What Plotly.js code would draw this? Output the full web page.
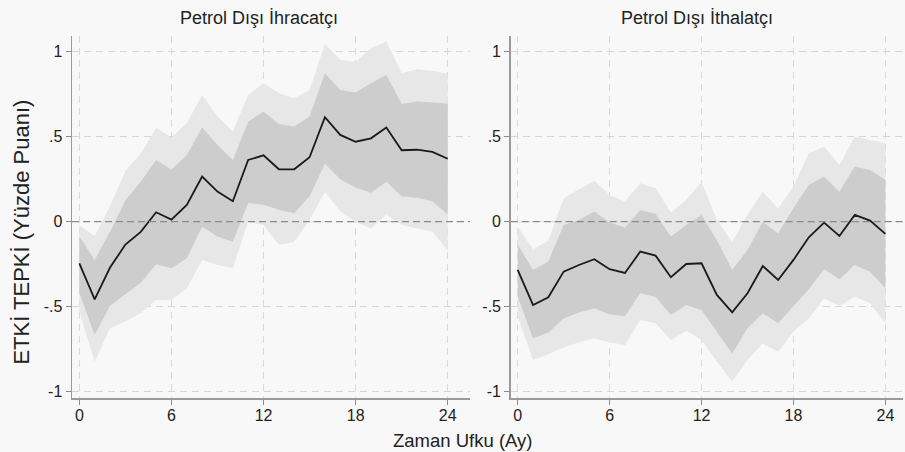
<!DOCTYPE html>
<html>
<head>
<meta charset="utf-8">
<script src="https://cdn.plot.ly/plotly-3.0.1.min.js"></script>
<style>html,body{margin:0;padding:0;background:#f8f8f8;}#chart{width:905px;height:452px;}</style>
</head>
<body>
<div id="chart"></div>
<script>
// Horizon (months)
const horizon = [0,1,2,3,4,5,6,7,8,9,10,11,12,13,14,15,16,17,18,19,20,21,22,23,24];

// Panel titles and axis text
const panelTitles = ["Petrol Dışı İhracatçı", "Petrol Dışı İthalatçı"];
const xTitle = "Zaman Ufku (Ay)";
const yTitle = "ETKİ TEPKİ (Yüzde Puanı)";
const xTickVals = [0, 6, 12, 18, 24];
const yTickVals = [-1, -0.5, 0, 0.5, 1];
const yTickText = ["-1", "-.5", "0", ".5", "1"];

// Left panel: Petrol Dışı İhracatçı
const irfExp     = [-0.245,-0.457,-0.27,-0.135,-0.06,0.055,0.012,0.098,0.265,0.177,0.12,0.363,0.39,0.308,0.308,0.379,0.614,0.51,0.47,0.49,0.553,0.42,0.423,0.41,0.37];
const innerUpExp = [-0.088,-0.225,-0.06,0.125,0.235,0.363,0.306,0.39,0.555,0.451,0.363,0.588,0.647,0.575,0.559,0.618,0.873,0.775,0.759,0.814,0.863,0.692,0.706,0.7,0.695];
const innerLoExp = [-0.42,-0.665,-0.495,-0.43,-0.36,-0.25,-0.274,-0.215,-0.03,-0.088,-0.118,0.11,0.1,0.07,0.05,0.15,0.34,0.25,0.2,0.17,0.235,0.15,0.14,0.12,0.04];
const outerUpExp = [-0.02,-0.085,0.09,0.30,0.40,0.552,0.495,0.578,0.745,0.618,0.53,0.745,0.814,0.755,0.726,0.775,1.045,0.951,0.941,1.02,1.059,0.873,0.896,0.888,0.87];
const outerLoExp = [-0.53,-0.824,-0.627,-0.588,-0.539,-0.461,-0.461,-0.392,-0.225,-0.255,-0.274,0.0,-0.02,-0.137,-0.118,0.01,0.176,0.059,0.0,-0.04,0.04,-0.02,-0.04,-0.06,-0.17];

// Right panel: Petrol Dışı İthalatçı
const irfImp     = [-0.284,-0.49,-0.445,-0.294,-0.255,-0.221,-0.28,-0.302,-0.176,-0.2,-0.327,-0.249,-0.245,-0.431,-0.533,-0.421,-0.261,-0.343,-0.225,-0.092,-0.006,-0.084,0.04,0.006,-0.072];
const innerUpImp = [-0.135,-0.284,-0.235,-0.02,0.01,0.059,-0.005,-0.035,0.069,0.045,-0.088,-0.02,0.039,-0.108,-0.284,-0.167,0.0,-0.069,0.08,0.216,0.265,0.176,0.324,0.304,0.245];
const innerLoImp = [-0.44,-0.686,-0.652,-0.57,-0.534,-0.51,-0.546,-0.557,-0.421,-0.441,-0.549,-0.49,-0.52,-0.647,-0.775,-0.627,-0.539,-0.598,-0.5,-0.398,-0.28,-0.339,-0.255,-0.294,-0.392];
const outerUpImp = [-0.03,-0.162,-0.113,0.137,0.19,0.24,0.157,0.118,0.226,0.196,0.054,0.127,0.235,0.01,-0.118,0.04,0.176,0.078,0.206,0.402,0.441,0.333,0.5,0.48,0.461];
const outerLoImp = [-0.56,-0.814,-0.78,-0.74,-0.71,-0.686,-0.71,-0.725,-0.578,-0.598,-0.696,-0.641,-0.696,-0.823,-0.941,-0.814,-0.716,-0.765,-0.647,-0.569,-0.451,-0.496,-0.441,-0.48,-0.598];

const OUTER = "#e7e7e7", INNER = "#cdcdcd", BG = "#f8f8f8";

function panel(xa, ya, irf, iu, il, ou, ol) {
  const base = {x: horizon, xaxis: xa, yaxis: ya, mode: "lines", hoverinfo: "skip", showlegend: false};
  return [
    Object.assign({}, base, {y: ol, line: {width: 0, color: OUTER}}),
    Object.assign({}, base, {y: ou, line: {width: 0, color: OUTER}, fill: "tonexty", fillcolor: OUTER}),
    Object.assign({}, base, {y: il, line: {width: 0, color: INNER}}),
    Object.assign({}, base, {y: iu, line: {width: 0, color: INNER}, fill: "tonexty", fillcolor: INNER}),
    Object.assign({}, base, {y: irf, line: {width: 1.8, color: "#1a1a1a"}})
  ];
}

const data = [].concat(
  panel("x", "y", irfExp, innerUpExp, innerLoExp, outerUpExp, outerLoExp),
  panel("x2", "y2", irfImp, innerUpImp, innerLoImp, outerUpImp, outerLoImp)
);

const FONT = "Liberation Sans, Arial, Helvetica, sans-serif";
const tickFont = {family: FONT, size: 16, color: "#222"};

function xax(domain, range, anchor) {
  return {domain: domain, range: range, anchor: anchor, tickmode: "array", tickvals: xTickVals,
    ticks: "outside", ticklen: 5, tickwidth: 1, tickcolor: "#8c8c8c", tickfont: tickFont,
    ticklabelstandoff: -3,
    showline: true, linecolor: "#9a9a9a", linewidth: 1.5, zeroline: false,
    showgrid: true, gridcolor: "#dadada", gridwidth: 1, griddash: "7px,5px", fixedrange: true};
}
function yax(anchor) {
  return {domain: [0.1188, 0.9204], range: [-1.039, 1.092], anchor: anchor, tickmode: "array",
    tickvals: yTickVals, ticktext: yTickText,
    ticks: "outside", ticklen: 5, tickwidth: 1, tickcolor: "#8c8c8c", tickfont: tickFont,
    showline: true, linecolor: "#9a9a9a", linewidth: 1.5, zeroline: false,
    showgrid: true, gridcolor: "#d6d6d6", gridwidth: 1, griddash: "7px,5px", fixedrange: true};
}

const layout = {
  width: 905, height: 452,
  margin: {l: 0, r: 0, t: 0, b: 0},
  paper_bgcolor: BG, plot_bgcolor: BG,
  font: {family: FONT, color: "#222"},
  xaxis: xax([0.0796, 0.5193], [-0.476, 25.45], "y"),
  yaxis: yax("x"),
  xaxis2: xax([0.5643, 0.9978], [-0.457, 25.15], "y2"),
  yaxis2: yax("x2"),
  shapes: [
    {type: "line", xref: "x domain", yref: "y", x0: 0, x1: 1, y0: 0, y1: 0, layer: "above",
     line: {color: "#8a8a8a", width: 1.4, dash: "7px,4px"}},
    {type: "line", xref: "x2 domain", yref: "y2", x0: 0, x1: 1, y0: 0, y1: 0, layer: "above",
     line: {color: "#8a8a8a", width: 1.4, dash: "7px,4px"}}
  ],
  annotations: [
    {text: panelTitles[0], xref: "paper", yref: "paper", x: 0.286, y: 0.960, xanchor: "center", yanchor: "middle",
     showarrow: false, font: {family: FONT, size: 18, color: "#222"}},
    {text: panelTitles[1], xref: "paper", yref: "paper", x: 0.770, y: 0.960, xanchor: "center", yanchor: "middle",
     showarrow: false, font: {family: FONT, size: 18, color: "#222"}},
    {text: xTitle, xref: "paper", yref: "paper", x: 0.5105, y: 0.0265, xanchor: "center", yanchor: "middle",
     showarrow: false, font: {family: FONT, size: 18.5, color: "#222"}},
    {text: yTitle, xref: "paper", yref: "paper", x: 0.024, y: 0.487, xanchor: "center", yanchor: "middle",
     textangle: -90, showarrow: false, font: {family: FONT, size: 22, color: "#222"}}
  ]
};

Plotly.newPlot("chart", data, layout, {staticPlot: true, displayModeBar: false});
</script>
</body>
</html>
